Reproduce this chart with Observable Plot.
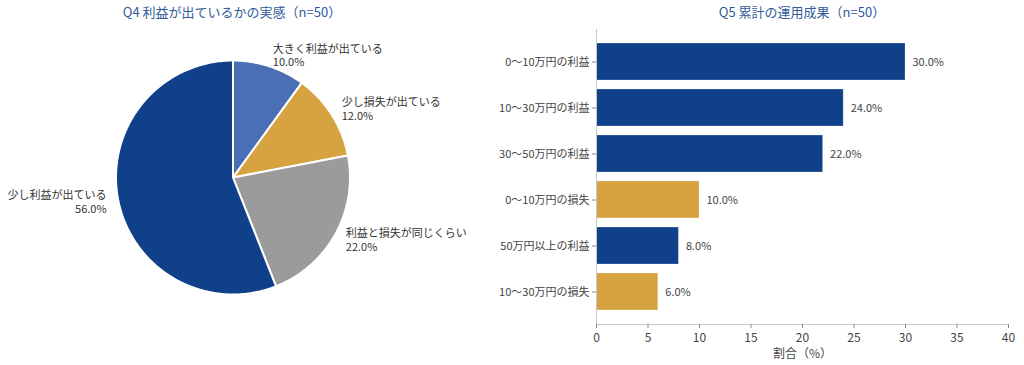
<!DOCTYPE html>
<html><head><meta charset="utf-8">
<script src="https://cdn.jsdelivr.net/npm/d3@7"></script>
<script src="https://cdn.jsdelivr.net/npm/@observablehq/plot@0.6"></script>
<style>
body{margin:0;background:#fff;font-family:"Noto Sans CJK JP","Noto Sans",sans-serif;}
#wrap{position:relative;width:1024px;height:365px;overflow:hidden;}
.title{position:absolute;top:2px;font-size:13px;color:#2f5b9b;transform:translateX(-50%);white-space:nowrap;z-index:2;}
#pie{position:absolute;left:0;top:0;}
#bar{position:absolute;left:480px;top:0;}
</style></head>
<body>
<div id="wrap">
  <div class="title" style="left:232px">Q4 利益が出ているかの実感（n=50）</div>
  <div class="title" style="left:802px">Q5 累計の運用成果（n=50）</div>
  <div id="pie"></div>
  <div id="bar"></div>
</div>
<script>
// ---- data ----
const pieLabels = ["大きく利益が出ている", "少し損失が出ている", "利益と損失が同じくらい", "少し利益が出ている"];
const pieValues = [10, 12, 22, 56];
const pieColors = ["#4a6fb5", "#d6a340", "#9b9b9b", "#11408a"];

const barCats = ["0〜10万円の利益", "10〜30万円の利益", "30〜50万円の利益", "0〜10万円の損失", "50万円以上の利益", "10〜30万円の損失"];
const barValues = [30, 24, 22, 10, 8, 6];
const barColors = ["#11408a", "#11408a", "#11408a", "#d6a340", "#11408a", "#d6a340"];
const xTicks = [0, 5, 10, 15, 20, 25, 30, 35, 40];

const FONT = '"Noto Sans CJK JP","Noto Sans",sans-serif';

// ---- pie geometry (from values) ----
const total = d3.sum(pieValues);
let cum = 0;
const slicePts = [];
const pieLabelData = [];
pieValues.forEach((v, i) => {
  const a0 = 90 - 360 * cum / total;
  const a1 = 90 - 360 * (cum + v) / total;
  slicePts.push({key: i, x: 0, y: 0, color: pieColors[i]});
  const n = Math.max(2, Math.ceil(Math.abs(a1 - a0)));
  for (let k = 0; k <= n; k++) {
    const a = (a0 + (a1 - a0) * k / n) * Math.PI / 180;
    slicePts.push({key: i, x: Math.cos(a), y: Math.sin(a), color: pieColors[i]});
  }
  slicePts.push({key: i, x: 0, y: 0, color: pieColors[i]});
  const am = ((a0 + a1) / 2) * Math.PI / 180;
  pieLabelData.push({x: 1.1 * Math.cos(am), y: 1.1 * Math.sin(am),
    text: pieLabels[i] + "\n" + (100 * v / total).toFixed(1) + "%"});
  cum += v;
});

const cx = 232.5, cy = 177, R = 117;
const pie = Plot.plot({
  width: 480, height: 365, margin: 0,
  style: {fontFamily: FONT, background: "transparent"},
  x: {domain: [-1, 1], range: [cx - R, cx + R], axis: null},
  y: {domain: [-1, 1], range: [cy + R, cy - R], axis: null},
  color: {type: "identity"},
  marks: [
    Plot.line(slicePts, {x: "x", y: "y", z: "key", fill: "color", stroke: "#fff", strokeWidth: 2, strokeLinejoin: "round", curve: "linear"}),
    Plot.text(pieLabelData.filter(d => d.x >= 0), {x: "x", y: "y", text: "text", textAnchor: "start", lineAnchor: "middle", lineHeight: 1.25, fontSize: 11, fill: "#333"}),
    Plot.text(pieLabelData.filter(d => d.x < 0), {x: "x", y: "y", text: "text", textAnchor: "end", lineAnchor: "middle", lineHeight: 1.25, fontSize: 11, fill: "#333"})
  ]
});
document.getElementById("pie").appendChild(pie);

// ---- bar chart ----
const barData = barCats.map((c, i) => ({cat: c, value: barValues[i], color: barColors[i]}));
const bar = Plot.plot({
  width: 544, height: 365,
  marginLeft: 116, marginRight: 16, marginTop: 29, marginBottom: 41,
  style: {fontFamily: FONT, fontSize: "11px", color: "#444", background: "transparent"},
  x: {domain: [0, 40]},
  y: {domain: barCats, paddingInner: 0.2, paddingOuter: 0.29, align: 0.5},
  color: {type: "identity"},
  marks: [
    Plot.barX(barData, {x: "value", y: "cat", fill: "color", stroke: "#ffffff", strokeOpacity: 0.25, strokeWidth: 1}),
    Plot.text(barData, {x: "value", y: "cat", text: d => d.value.toFixed(1) + "%", dx: 7, textAnchor: "start", fontSize: 11, fill: "#444"}),
    Plot.ruleX([0], {stroke: "#c8c8c8"}),
    Plot.frame({anchor: "bottom", stroke: "#c8c8c8"}),
    Plot.axisY({tickSize: 4, tickPadding: 3, stroke: "#888", fill: "#444", fontSize: 11, label: null}),
    Plot.axisX({ticks: xTicks, tickSize: 4, tickPadding: 5, stroke: "#888", fill: "#444", fontSize: 12,
      label: "割合（%）", labelAnchor: "center", labelArrow: "none", labelOffset: 33})
  ]
});
document.getElementById("bar").appendChild(bar);
</script>
</body></html>
